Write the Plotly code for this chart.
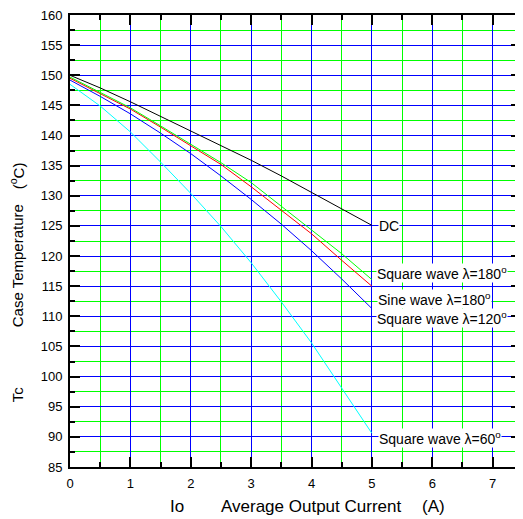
import plotly.graph_objects as go

current = [0, 0.5, 1, 1.5, 2, 2.5, 3, 3.5, 4, 4.5, 5]
dc = [150, 147.9, 145.6, 143.2, 140.8, 138.4, 135.9, 133.3, 130.6, 127.9, 125.1]
sq180 = [149.7, 147.2, 144.6, 141.6, 138.5, 135.5, 132.2, 128.3, 124.4, 120.4, 116.1]
sine180 = [149.5, 147.0, 144.4, 141.4, 138.3, 135.2, 131.5, 127.6, 123.7, 119.3, 115.0]
sq120 = [149.2, 146.5, 143.6, 140.4, 137.0, 133.3, 129.4, 125.3, 120.9, 116.2, 111.3]
sq60 = [148.5, 144.9, 140.6, 135.6, 130.4, 124.9, 118.9, 112.4, 105.6, 98.2, 90.6]

series = [
    ("Square wave λ=60<sup>o</sup>", sq60, "#00ffff", 89.85, 5.1),
    ("Square wave λ=120<sup>o</sup>", sq120, "#0000ff", 109.75, 5.06),
    ("Sine wave λ=180<sup>o</sup>", sine180, "#ff0000", 112.8, 5.08),
    ("Square wave λ=180<sup>o</sup>", sq180, "#00ff00", 117.2, 5.06),
    ("DC", dc, "#000000", 125.0, 5.1),
]

x_ticks = [0, 1, 2, 3, 4, 5, 6, 7]
y_ticks = list(range(85, 161, 5))

FONT = "Liberation Sans, Arial, sans-serif"

fig = go.Figure()
for name, vals, color, ly, lx in series:
    fig.add_trace(go.Scatter(x=current, y=vals, mode="lines",
                             line=dict(color=color, width=1), name=name,
                             showlegend=False))
    fig.add_annotation(x=lx, y=ly, xref="x", yref="y", text=name,
                       showarrow=False, xanchor="left", yanchor="middle",
                       bgcolor="white", borderpad=0,
                       font=dict(family=FONT, size=14, color="black"))

axis_common = dict(
    showline=True, linewidth=2, linecolor="black", mirror="ticks",
    ticks="inside", ticklen=10, tickwidth=2, tickcolor="black",
    showgrid=True, gridwidth=1, gridcolor="#0000ff", zeroline=False,
    tickfont=dict(family=FONT, size=13, color="black"),
    ticklabeloverflow="allow",
)

fig.update_xaxes(range=[0, 7.47], tickvals=x_ticks, ticklabelstandoff=3,
                 **axis_common,
                 minor=dict(dtick=0.5, ticks="inside", ticklen=5, tickwidth=2,
                            tickcolor="black", showgrid=True,
                            gridcolor="#00ff00", gridwidth=1))
fig.update_yaxes(range=[85, 160], tickvals=y_ticks, ticklabelstandoff=3,
                 **axis_common,
                 minor=dict(dtick=2.5, ticks="inside", ticklen=5, tickwidth=2,
                            tickcolor="black", showgrid=True,
                            gridcolor="#00ff00", gridwidth=1))

# page body has an 8px margin
OFF = 8
W, H = 515, 511
L, R, T, B = 62, 0, 7, 52
pw, ph = W - L - R, H - T - B


def px_to_paper(px, py):
    return (px - OFF - L) / pw, 1 - (py - OFF - T) / ph


for txt, px, py in [("Io", 177, 507), ("Average Output Current", 312, 507), ("(A)", 435, 507)]:
    xp, yp = px_to_paper(px, py)
    fig.add_annotation(x=xp, y=yp, xref="paper", yref="paper", text=txt,
                       showarrow=False, xanchor="center", yanchor="middle",
                       font=dict(family=FONT, size=17, color="black"))

for txt, px, py in [("Tc", 17, 394), ("Case Temperature", 17, 266), ("(<sup>o</sup>C)", 17, 176)]:
    xp, yp = px_to_paper(px, py)
    fig.add_annotation(x=xp, y=yp, xref="paper", yref="paper", text=txt,
                       showarrow=False, xanchor="center", yanchor="middle",
                       textangle=-90,
                       font=dict(family=FONT, size=15, color="black"))

fig.update_layout(width=W, height=H, margin=dict(l=L, r=R, t=T, b=B),
                  plot_bgcolor="white", paper_bgcolor="white",
                  font=dict(family=FONT, color="black"))

fig.write_html("out.html")
